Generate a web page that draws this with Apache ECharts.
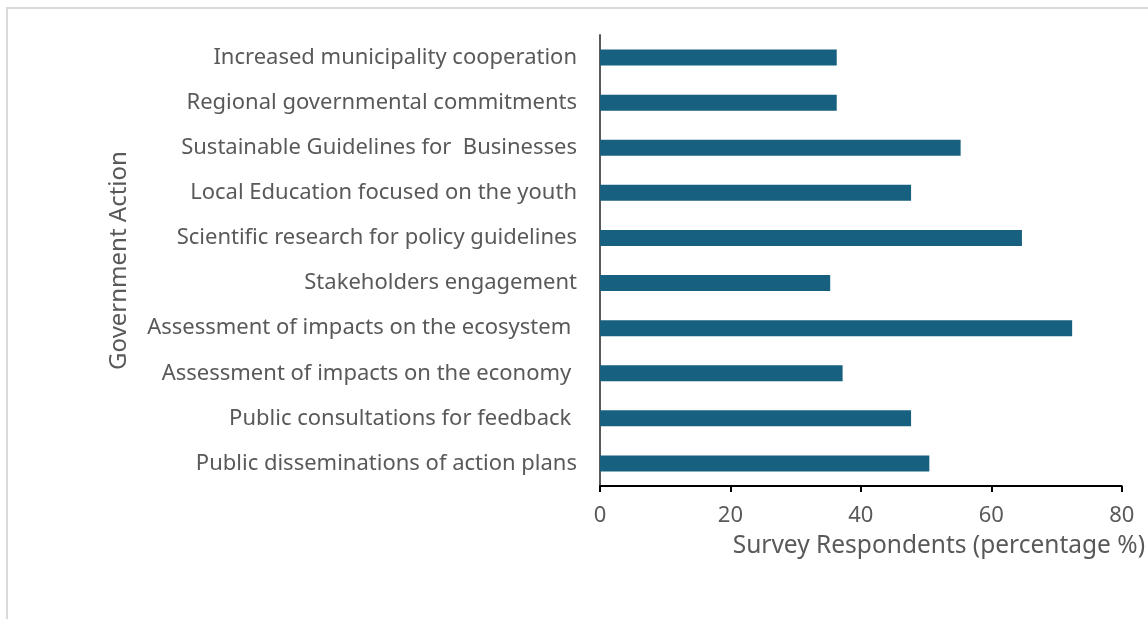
<!DOCTYPE html>
<html>
<head>
<meta charset="utf-8">
<script src="https://cdn.jsdelivr.net/npm/echarts@6/dist/echarts.min.js"></script>
<style>
  html, body { margin: 0; padding: 0; background: #fff; }
  #chart { width: 1148px; height: 619px; }
</style>
</head>
<body>
<div id="chart"></div>
<script>
  // categories, bottom to top (category axis draws first item at the bottom)
  var actions = [
    'Public disseminations of action plans',
    'Public consultations for feedback ',
    'Assessment of impacts on the economy ',
    'Assessment of impacts on the ecosystem ',
    'Stakeholders engagement',
    'Scientific research for policy guidelines',
    'Local Education focused on the youth',
    'Sustainable Guidelines for  Businesses',
    'Regional governmental commitments',
    'Increased municipality cooperation'
  ];
  // survey respondents, %
  var respondents = [50.5, 47.7, 37.2, 72.4, 35.3, 64.7, 47.7, 55.3, 36.3, 36.3];

  var xTicks = { min: 0, max: 80, interval: 20 };

  var textColor = '#595959';
  var barColor = '#17607F';
  var font = 'Noto Sans';

  var myChart = echarts.init(document.getElementById('chart'));

  myChart.setOption({
    animation: false,
    textStyle: { fontFamily: font },
    graphic: [{
      type: 'rect',
      shape: { x: 7, y: 8, width: 1160, height: 640 },
      style: { fill: 'none', stroke: '#d9d9d9', lineWidth: 2 },
      silent: true
    }],
    grid: {
      left: 600,
      right: 26,
      top: 35,
      bottom: 133
    },
    xAxis: {
      type: 'value',
      min: xTicks.min,
      max: xTicks.max,
      interval: xTicks.interval,
      name: 'Survey Respondents (percentage %)',
      nameLocation: 'middle',
      nameGap: 48,
      nameTextStyle: {
        color: textColor,
        fontSize: 24.5,
        fontFamily: font,
        padding: [0, 0, 0, 156]
      },
      axisLine: { show: true, lineStyle: { color: '#000', width: 2 } },
      axisTick: { show: true, length: 6, lineStyle: { color: '#000', width: 2 } },
      axisLabel: { color: textColor, fontSize: 22, margin: 19, fontFamily: font },
      splitLine: { show: false }
    },
    yAxis: {
      type: 'category',
      data: actions,
      name: 'Government Action',
      nameLocation: 'middle',
      nameGap: 469,
      nameRotate: 90,
      nameTextStyle: { color: textColor, fontSize: 24, fontFamily: font },
      axisLine: { show: true, lineStyle: { color: '#595959', width: 2 } },
      axisTick: { show: false },
      axisLabel: { color: textColor, fontSize: 22, margin: 23, fontFamily: font }
    },
    series: [{
      type: 'bar',
      data: respondents,
      barWidth: 16,
      itemStyle: { color: barColor },
      silent: true
    }]
  });
</script>
</body>
</html>
